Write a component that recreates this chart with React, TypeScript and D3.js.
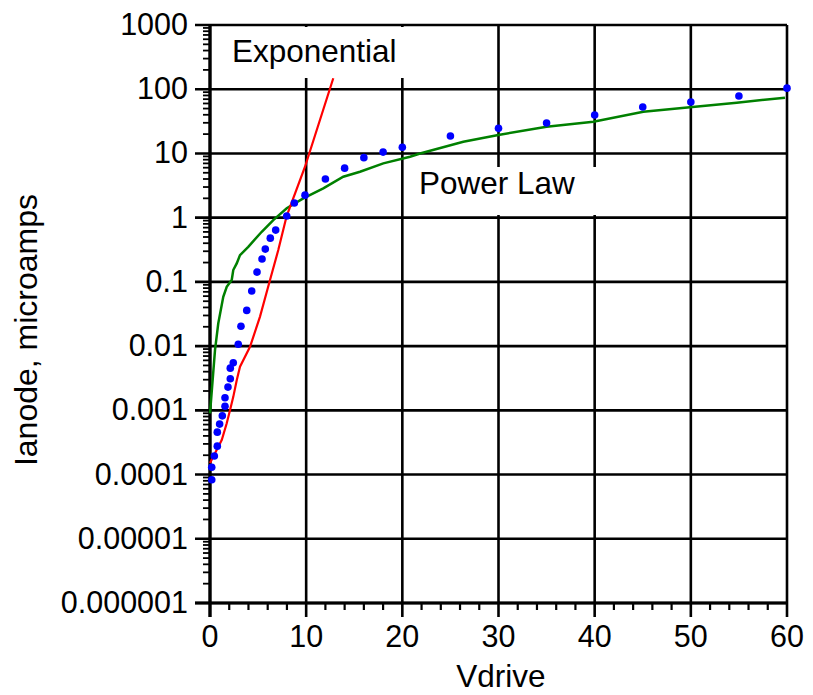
import React from "react";
import * as d3 from "d3";

const W = 813;
const H = 695;

// Measured data (Vdrive, Ianode in microamps)
const pointV = [0.18, 0.18, 0.45, 0.76, 0.76, 1.0, 1.28, 1.56, 1.56, 1.87, 2.11, 2.11, 2.42, 2.94, 3.22, 3.82, 4.34, 4.89, 5.41, 5.75, 6.27, 6.83, 7.98, 8.77, 9.88, 12, 14, 16, 18, 20, 25, 30, 35, 40, 45, 50, 55, 60];
const pointI = [0.000083, 0.00013, 0.000194, 0.000277, 0.000457, 0.00061, 0.00082, 0.00116, 0.00157, 0.0023, 0.0031, 0.00454, 0.0055, 0.0107, 0.0204, 0.036, 0.072, 0.142, 0.227, 0.324, 0.48, 0.64, 1.06, 1.69, 2.24, 4.0, 5.9, 8.6, 10.5, 12.5, 18.7, 24.6, 29.8, 39.6, 52.8, 63.2, 78.4, 104];

const expV = [0, 0.52, 1.22, 1.74, 2.08, 2.42, 2.78, 3.12, 4.16, 5.2, 6.24, 7.1, 7.97, 9.88, 12.82];
const expI = [0.000151, 0.000215, 0.000344, 0.00063, 0.001, 0.00162, 0.00295, 0.00479, 0.00977, 0.0288, 0.107, 0.313, 1.06, 6.21, 148];

const powV = [0, 0.52, 0.86, 1.38, 1.74, 2.26, 2.42, 2.78, 3.12, 3.98, 5.38, 6.58, 7.98, 9.7, 11.78, 13.86, 15.6, 18.02, 20.8, 21.84, 26.34, 29.98, 35.0, 39.86, 45.06, 49.9, 54.77, 59.79];
const powI = [0.000895, 0.00867, 0.0226, 0.0586, 0.0839, 0.107, 0.153, 0.194, 0.261, 0.352, 0.603, 0.918, 1.4, 2.0, 2.86, 4.34, 5.19, 7.01, 8.89, 10, 15.2, 19.4, 26.1, 31.2, 44.7, 52.2, 61.7, 73.8];

const yTickValues = [1000, 100, 10, 1, 0.1, 0.01, 0.001, 0.0001, 0.00001, 0.000001];
const yTickLabels = ["1000", "100", "10", "1", "0.1", "0.01", "0.001", "0.0001", "0.00001", "0.000001"];
const xTickValues = [0, 10, 20, 30, 40, 50, 60];
const xMinorValues = d3.range(0, 61, 2).filter((v) => v % 10 !== 0);

const FONT = "'Liberation Sans', Arial, sans-serif";

export default function App() {
  const x = d3.scaleLinear().domain([0, 60]).range([210, 787]);
  const y = d3.scaleLog().domain([0.000001, 1000]).range([603, 25]);

  const yMinor: number[] = [];
  for (let e = -6; e < 3; e++) {
    for (let k = 2; k <= 9; k++) yMinor.push(k * Math.pow(10, e));
  }

  const line = d3
    .line<[number, number]>()
    .x((d) => x(d[0]))
    .y((d) => y(d[1]));

  const expData = expV.map((v, i) => [v, expI[i]] as [number, number]);
  const powData = powV.map((v, i) => [v, powI[i]] as [number, number]);

  const x0 = x(0);
  const x1 = x(60);
  const yTop = y(1000);
  const yBot = y(0.000001);

  return (
    <svg width={W} height={H} style={{ position: "absolute", left: 0, top: 0, background: "#fff" }}>
      {/* horizontal grid + major y ticks */}
      {yTickValues.map((v) => (
        <line key={"hg" + v} x1={195} x2={x1} y1={y(v)} y2={y(v)} stroke="#000" strokeWidth={2.6} />
      ))}
      {/* vertical grid + major x ticks */}
      {xTickValues.map((v) => (
        <line key={"vg" + v} x1={x(v)} x2={x(v)} y1={yTop} y2={617} stroke="#000" strokeWidth={2.6} />
      ))}
      {/* y minor ticks */}
      {yMinor.map((v, i) => (
        <line key={"ym" + i} x1={203} x2={x0} y1={y(v)} y2={y(v)} stroke="#000" strokeWidth={1.8} />
      ))}
      {/* x minor ticks */}
      {xMinorValues.map((v) => (
        <line key={"xm" + v} x1={x(v)} x2={x(v)} y1={yBot} y2={610} stroke="#000" strokeWidth={2.2} />
      ))}
      {/* axis lines */}
      <line x1={x0} x2={x0} y1={yTop} y2={617} stroke="#000" strokeWidth={3.2} />
      <line x1={195} x2={x1} y1={yBot} y2={yBot} stroke="#000" strokeWidth={2.8} />

      {/* data */}
      <path d={line(powData) || ""} fill="none" stroke="#008000" strokeWidth={2.5} />
      <path d={line(expData) || ""} fill="none" stroke="#ff0000" strokeWidth={2.2} />
      {pointV.map((v, i) => (
        <circle key={"p" + i} cx={x(v)} cy={y(pointI[i])} r={3.8} fill="#0000ff" />
      ))}

      {/* label boxes */}
      <rect x={222} y={27} width={188} height={51} fill="#fff" />
      <text x={232} y={62} fontFamily={FONT} fontSize={31.5} fill="#000">Exponential</text>
      <rect x={408} y={167} width={194} height={48} fill="#fff" />
      <text x={419} y={194} fontFamily={FONT} fontSize={31.5} fill="#000">Power Law</text>

      {/* y tick labels */}
      {yTickValues.map((v, i) => (
        <text key={"yl" + v} x={188} y={y(v) + 10} textAnchor="end" fontFamily={FONT} fontSize={30.5} fill="#000">
          {yTickLabels[i]}
        </text>
      ))}
      {/* x tick labels */}
      {xTickValues.map((v) => (
        <text key={"xl" + v} x={x(v)} y={647} textAnchor="middle" fontFamily={FONT} fontSize={30.5} fill="#000">
          {String(v)}
        </text>
      ))}
      {/* axis titles */}
      <text x={501} y={687} textAnchor="middle" fontFamily={FONT} fontSize={31.5} fill="#000">Vdrive</text>
      <text
        transform={`translate(37, 330) rotate(-90)`}
        textAnchor="middle"
        fontFamily={FONT}
        fontSize={32}
        fill="#000"
      >
        Ianode, microamps
      </text>
    </svg>
  );
}
